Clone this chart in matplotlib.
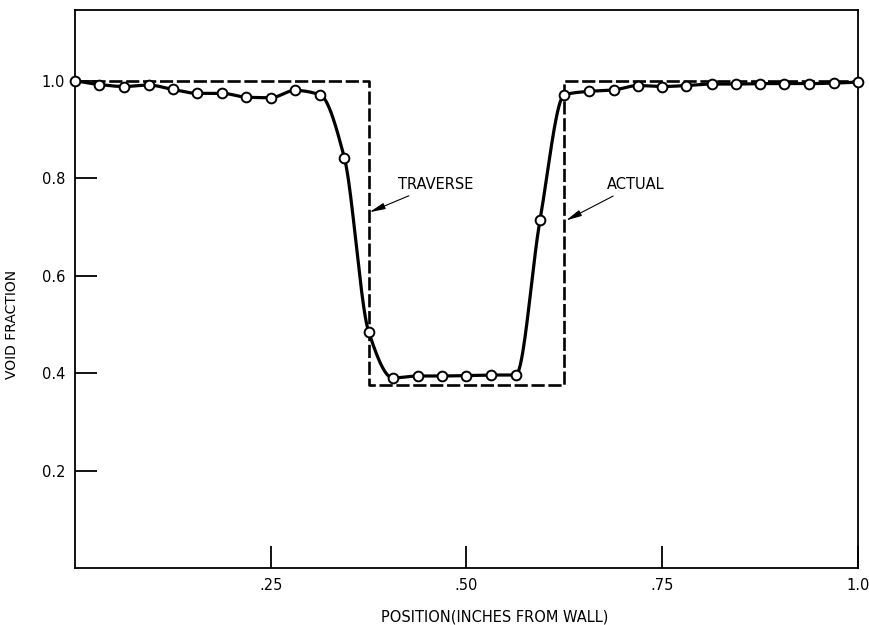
"""Void fraction across the channel: measured traverse vs. actual step profile."""

import numpy as np
import matplotlib
matplotlib.use("Agg")
import matplotlib.pyplot as plt

# ---------------------------------------------------------------
# Data
# ---------------------------------------------------------------
position = [0.0, 0.031, 0.063, 0.094, 0.125, 0.156, 0.188, 0.219, 0.25,
            0.281, 0.313, 0.344, 0.375, 0.406, 0.438, 0.469, 0.5, 0.531,
            0.563, 0.594, 0.625, 0.656, 0.688, 0.719, 0.75, 0.781, 0.813,
            0.844, 0.875, 0.906, 0.938, 0.969, 1.0]
void_fraction = [1.0, 0.992, 0.988, 0.991, 0.982, 0.974, 0.974, 0.966, 0.965,
                 0.980, 0.971, 0.842, 0.485, 0.390, 0.394, 0.394, 0.395, 0.396,
                 0.396, 0.715, 0.971, 0.978, 0.981, 0.990, 0.988, 0.990, 0.993,
                 0.993, 0.994, 0.994, 0.994, 0.995, 0.997]

# dashed step profile
step_x = [0.0, 0.375, 0.375, 0.625, 0.625, 1.0]
step_y = [1.0, 1.0, 0.375, 0.375, 1.0, 1.0]

x_ticks = [0.25, 0.50, 0.75, 1.0]
x_tick_labels = [".25", ".50", ".75", "1.0"]
y_ticks = [0.2, 0.4, 0.6, 0.8, 1.0]
y_tick_labels = ["0.2", "0.4", "0.6", "0.8", "1.0"]


def pchip(x, y, xs):
    """Monotone cubic (Fritsch-Carlson) curve through the measured points."""
    x = np.asarray(x, float)
    y = np.asarray(y, float)
    h = np.diff(x)
    d = np.diff(y) / h
    m = np.zeros_like(y)
    for k in range(1, len(x) - 1):
        if d[k - 1] * d[k] > 0:
            w1 = 2 * h[k] + h[k - 1]
            w2 = h[k] + 2 * h[k - 1]
            m[k] = (w1 + w2) / (w1 / d[k - 1] + w2 / d[k])
    m[0] = d[0]
    m[-1] = d[-1]
    idx = np.clip(np.searchsorted(x, xs) - 1, 0, len(x) - 2)
    t = (xs - x[idx]) / h[idx]
    h00 = 2 * t**3 - 3 * t**2 + 1
    h10 = t**3 - 2 * t**2 + t
    h01 = -2 * t**3 + 3 * t**2
    h11 = t**3 - t**2
    return (h00 * y[idx] + h10 * h[idx] * m[idx]
            + h01 * y[idx + 1] + h11 * h[idx] * m[idx + 1])


fig = plt.figure(figsize=(8.69, 6.25), dpi=100)
ax = fig.add_axes([0.0863, 0.0912, 0.9010, 0.8928])

ax.plot(step_x, step_y, color="black", lw=1.9, dashes=(5, 1.4), zorder=2)

xs = np.linspace(0, 1, 1200)
ax.plot(xs, pchip(position, void_fraction, xs), color="black", lw=2.3,
        zorder=3, solid_capstyle="round")
ax.plot(position, void_fraction, "o", ms=7, mfc="white", mec="black",
        mew=1.4, zorder=4, clip_on=False)

arrow = dict(arrowstyle="-|>,head_length=0.9,head_width=0.18",
             color="black", lw=0.8, shrinkA=2, shrinkB=0)
ax.annotate("TRAVERSE", xy=(0.376, 0.73), xytext=(0.413, 0.787),
            fontsize=10.5, va="center", ha="left", arrowprops=arrow)
ax.annotate("ACTUAL", xy=(0.627, 0.713), xytext=(0.679, 0.787),
            fontsize=10.5, va="center", ha="left", arrowprops=arrow)

ax.set_xlim(0, 1.0)
ax.set_ylim(0, 1.145)
ax.set_xticks(x_ticks)
ax.set_xticklabels(x_tick_labels)
ax.set_yticks(y_ticks)
ax.set_yticklabels(y_tick_labels)
ax.tick_params(direction="in", length=16, width=1.3, labelsize=10.5, pad=7)
for s in ax.spines.values():
    s.set_linewidth(1.3)

ax.set_xlabel("POSITION(INCHES FROM WALL)", fontsize=10.5)
ax.xaxis.set_label_coords(0.536, -0.075)
ax.text(-0.08, 0.437, "VOID FRACTION", rotation=90, transform=ax.transAxes,
        ha="center", va="center", fontsize=10)

fig.savefig("out.png", dpi=100)
